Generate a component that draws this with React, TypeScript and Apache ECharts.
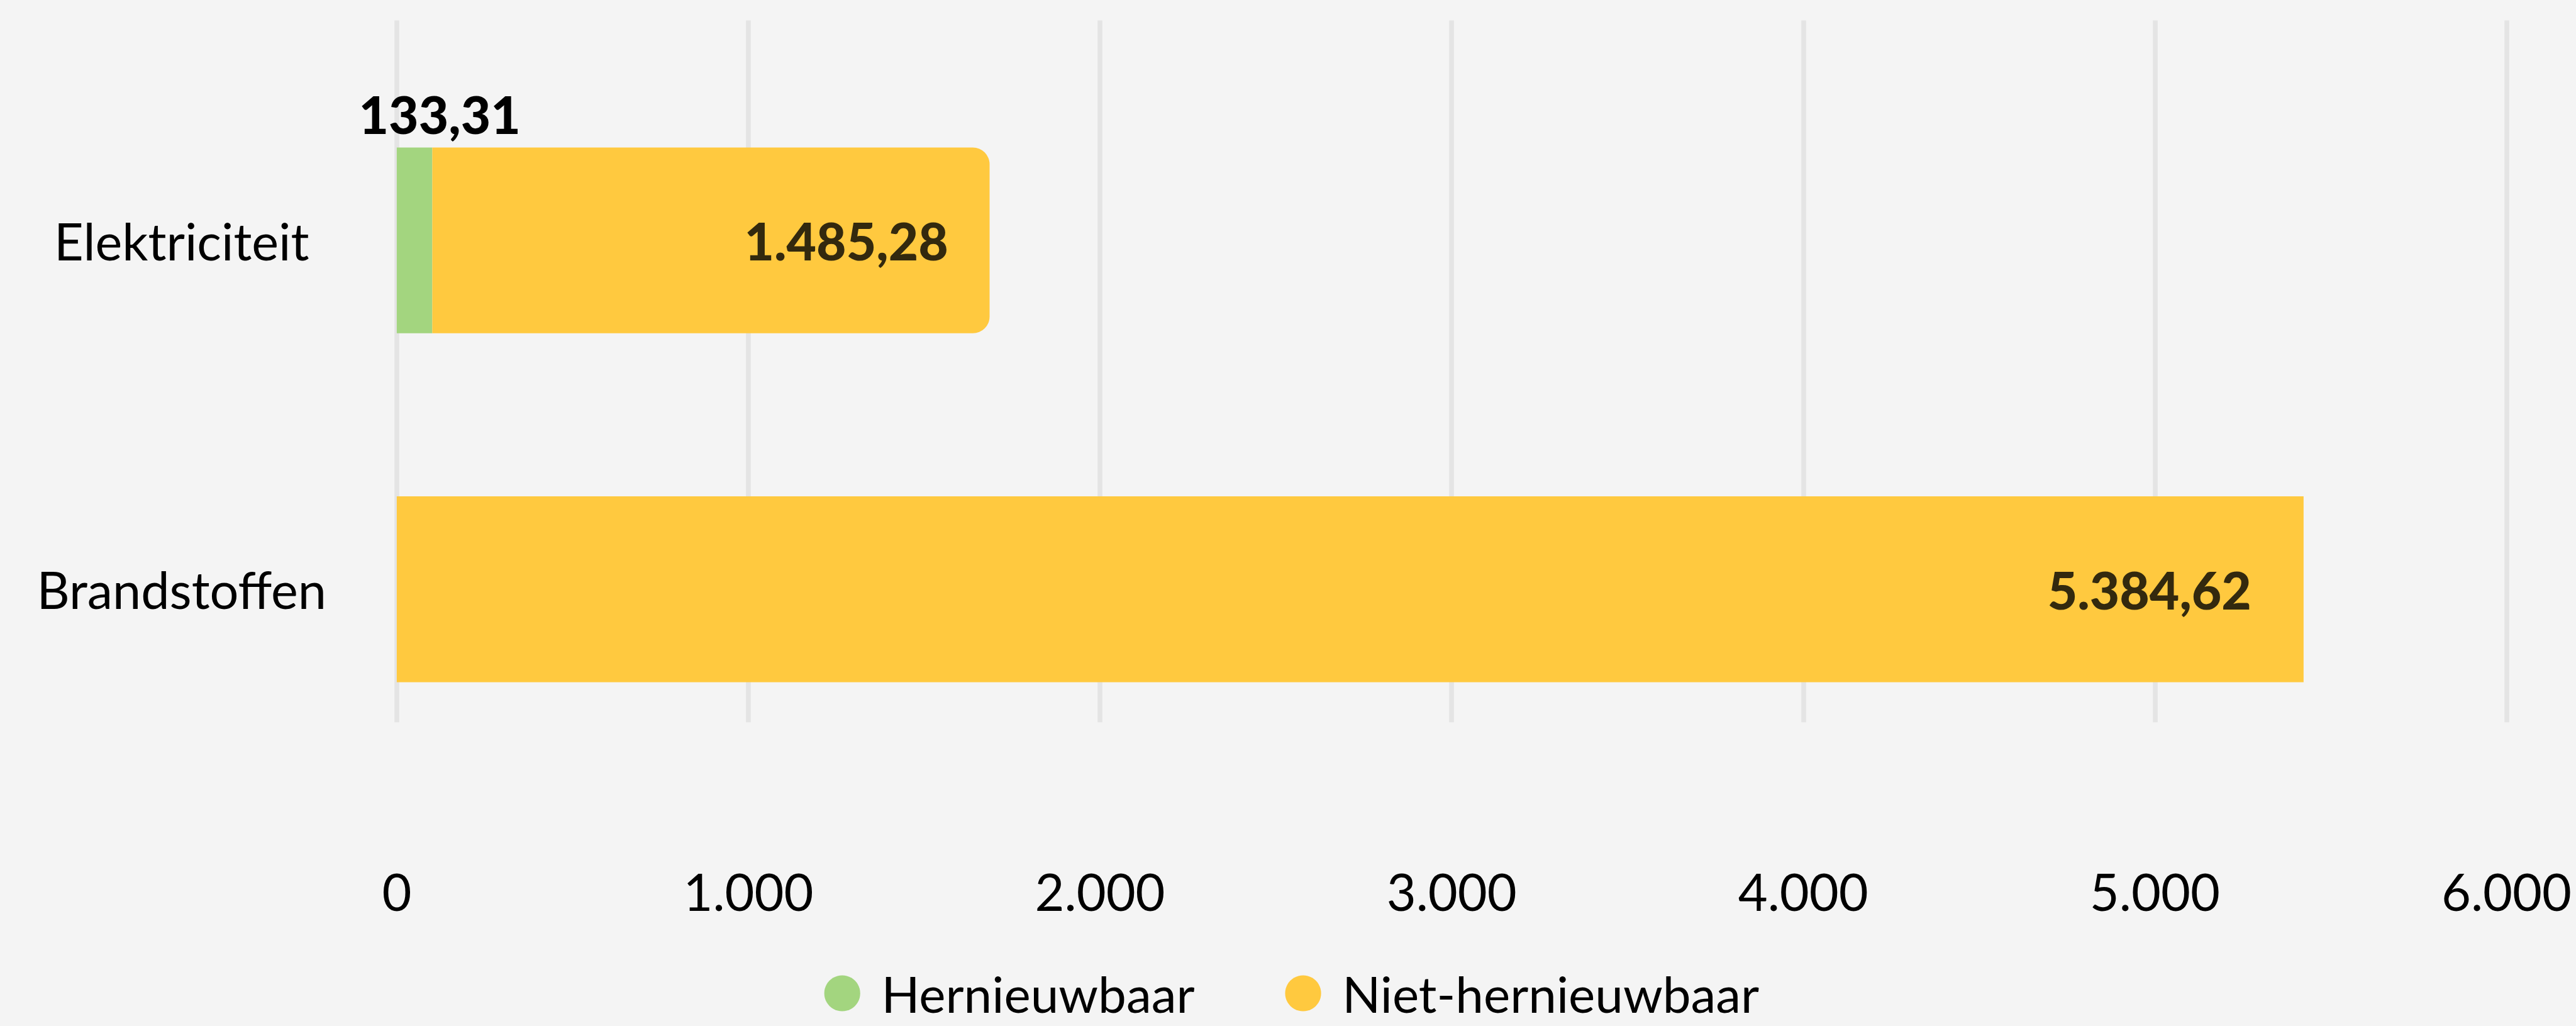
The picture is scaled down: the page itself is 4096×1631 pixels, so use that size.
import React, { useEffect, useRef } from "react";
import * as echarts from "echarts";

const categories = ["Elektriciteit", "Brandstoffen"];
const seriesNames = ["Hernieuwbaar", "Niet-hernieuwbaar"];
// bar lengths as drawn in the picture
const hernieuwbaar = [101, null];
const nietHernieuwbaar = [1585, 5423];
// value labels as printed in the picture
const hernieuwbaarLabels = ["133,31", ""];
const nietHernieuwbaarLabels = ["1.485,28", "5.384,62"];
const tickLabels = ["0", "1.000", "2.000", "3.000", "4.000", "5.000", "6.000"];

const S = 0.953;
const FONT = "Lato";

export default function App() {
  const ref = useRef<HTMLDivElement>(null);
  useEffect(() => {
    if (!ref.current) return;
    const chart = echarts.init(ref.current, null, { renderer: "svg" });
    const left = 662 * S;
    const right = 4096 - 4182 * S;
    const yellowRadius = [[0, 28 * S, 28 * S, 0], 0];
    const insideDist = [69 * S, 87 * S];
    chart.setOption({
      animation: false,
      backgroundColor: "#f4f4f4",
      grid: [
        { left, right, top: 110 * S, bottom: 1631 - 1274 * S },
        { left, right, top: 34 * S, bottom: 1631 - 1205 * S },
      ],
      legend: {
        data: seriesNames,
        left: 1370 * S,
        top: 1534,
        icon: "circle",
        itemWidth: 60 * S,
        itemHeight: 60 * S,
        itemGap: 151 * S,
        textStyle: {
          fontFamily: FONT,
          fontSize: 80,
          lineHeight: 72,
          color: "#000",
          padding: [0, 0, 0, 30 * S],
        },
      },
      xAxis: [
        {
          type: "value",
          gridIndex: 0,
          min: 0,
          max: 6000,
          interval: 1000,
          splitLine: { show: false },
          axisLine: { show: false },
          axisTick: { show: false },
          axisLabel: {
            formatter: (_v: number, i: number) => tickLabels[i],
            fontFamily: FONT,
            fontSize: 81,
            color: "#000",
            verticalAlign: "middle",
            margin: 1486 * S - 1274 * S,
          },
        },
        {
          type: "value",
          gridIndex: 1,
          min: 0,
          max: 6000,
          interval: 1000,
          axisLine: { show: false },
          axisTick: { show: false },
          axisLabel: { show: false },
          splitLine: { show: true, lineStyle: { color: "#e4e4e4", width: 8 * S } },
        },
      ],
      yAxis: [
        {
          type: "category",
          gridIndex: 0,
          data: categories,
          inverse: true,
          axisLine: { show: false },
          axisTick: { show: false },
          splitLine: { show: false },
          axisLabel: {
            fontFamily: FONT,
            fontSize: 81,
            color: "#000",
            align: "center",
            margin: (662 - 303) * S,
          },
        },
        { type: "value", gridIndex: 1, show: false, min: 0, max: 1 },
      ],
      series: [
        {
          name: seriesNames[0],
          type: "bar",
          stack: "total",
          barWidth: 310 * S,
          itemStyle: { color: "#a3d57f" },
          data: hernieuwbaar,
          label: {
            show: true,
            position: "top",
            distance: 12,
            offset: [42 * S, 0],
            fontFamily: FONT,
            fontWeight: 900,
            fontSize: 82,
            color: "#000",
            formatter: (p: any) => hernieuwbaarLabels[p.dataIndex] || "",
          },
        },
        {
          name: seriesNames[1],
          type: "bar",
          stack: "total",
          barWidth: 310 * S,
          itemStyle: { color: "#ffc93f" },
          data: nietHernieuwbaar.map((v, i) => ({
            value: v,
            itemStyle: { borderRadius: yellowRadius[i] },
            label: { distance: insideDist[i] },
          })),
          label: {
            show: true,
            position: "insideRight",
            fontFamily: FONT,
            fontWeight: 900,
            fontSize: 82,
            color: "#33290e",
            formatter: (p: any) => nietHernieuwbaarLabels[p.dataIndex],
          },
        },
      ],
    });
    return () => chart.dispose();
  }, []);
  return (
    <div
      ref={ref}
      style={{ position: "fixed", left: 0, top: 0, width: 4096, height: 1631 }}
    />
  );
}
